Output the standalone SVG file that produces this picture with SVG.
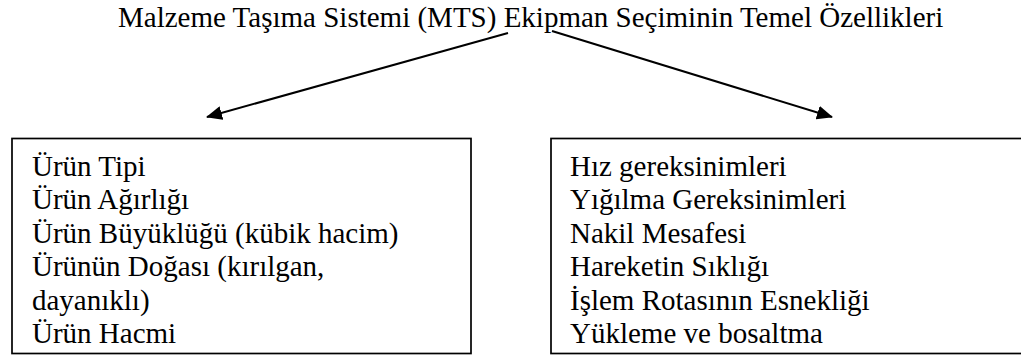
<svg xmlns="http://www.w3.org/2000/svg" width="1021" height="358" viewBox="0 0 1021 358">
  <style>
    .t { font-family: 'Liberation Serif', 'Times New Roman', Tinos, 'DejaVu Serif', serif; font-size: 29px; fill: #000; }
    .box { fill: #fff; stroke: #000; stroke-width: 1.7; }
    .conn { stroke: #000; stroke-width: 2; fill: none; }
  </style>
  <defs>
    <marker id="arrow" viewBox="0 0 16 14" refX="15" refY="7" markerWidth="16" markerHeight="14" markerUnits="userSpaceOnUse" orient="auto">
      <path d="M0,0 L16,7 L0,14 Z" fill="#000"/>
    </marker>
  </defs>
  <rect width="1021" height="358" fill="#fff"/>
  <g id="title">
    <text class="t" font-family="Liberation Serif, serif" x="118" y="27">Malzeme Taşıma Sistemi (MTS) Ekipman Seçiminin Temel Özellikleri</text>
  </g>
  <g id="connectors">
    <line class="conn" x1="508" y1="33" x2="207" y2="117" marker-end="url(#arrow)"/>
    <line class="conn" x1="552" y1="31" x2="832" y2="117" marker-end="url(#arrow)"/>
  </g>
  <g id="left-box" class="t" font-family="Liberation Serif, serif">
    <rect class="box" x="12" y="138.5" width="459" height="215"/>
    <text class="t" x="32" y="176">Ürün Tipi</text>
    <text class="t" x="32" y="209.4">Ürün Ağırlığı</text>
    <text class="t" x="32" y="242.8">Ürün Büyüklüğü (kübik hacim)</text>
    <text class="t" x="32" y="276.2">Ürünün Doğası (kırılgan,</text>
    <text class="t" x="32" y="309.6">dayanıklı)</text>
    <text class="t" x="32" y="343">Ürün Hacmi</text>
  </g>
  <g id="right-box" class="t" font-family="Liberation Serif, serif">
    <rect class="box" x="551" y="138.5" width="480" height="215"/>
    <text class="t" x="570" y="176">Hız gereksinimleri</text>
    <text class="t" x="570" y="209.4">Yığılma Gereksinimleri</text>
    <text class="t" x="570" y="242.8">Nakil Mesafesi</text>
    <text class="t" x="570" y="276.2">Hareketin Sıklığı</text>
    <text class="t" x="570" y="309.6">İşlem Rotasının Esnekliği</text>
    <text class="t" x="570" y="343">Yükleme ve bosaltma</text>
  </g>
</svg>
